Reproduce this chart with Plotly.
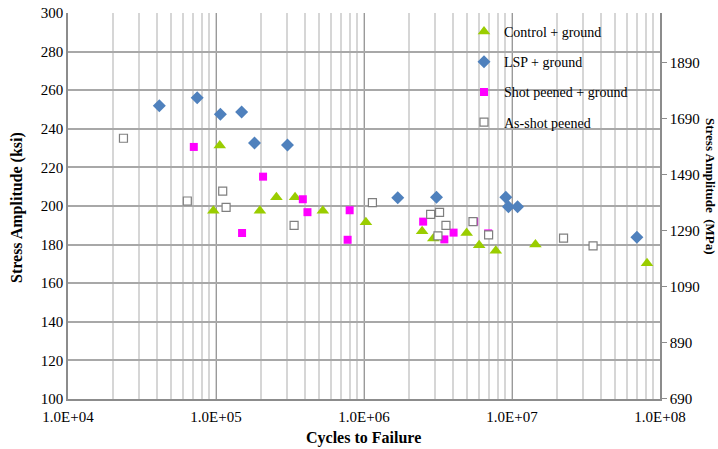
import plotly.graph_objects as go

# Fatigue data: cycles to failure and stress amplitude (ksi)
control_cycles = [9.6e4, 1.06e5, 1.98e5, 2.56e5, 3.42e5, 5.27e5, 1.03e6, 2.47e6,
                  2.94e6, 4.94e6, 6.0e6, 7.77e6, 1.44e7, 8.17e7]
control_ksi = [197.6, 231.4, 197.6, 204.5, 204.5, 197.6, 191.6, 186.9,
               183.1, 186.0, 179.6, 176.8, 180.0, 170.3]

lsp_cycles = [4.14e4, 7.46e4, 1.07e5, 1.49e5, 1.82e5, 3.04e5, 1.69e6, 3.09e6,
              9.08e6, 9.46e6, 1.09e7, 6.98e7]
lsp_ksi = [252.0, 256.1, 247.5, 248.7, 232.6, 231.6, 204.3, 204.5,
           204.5, 199.6, 199.6, 183.8]

shot_cycles = [7.08e4, 1.50e5, 2.08e5, 3.86e5, 4.15e5, 7.75e5, 8.0e5, 2.51e6,
               3.49e6, 4.03e6, 5.55e6, 6.9e6]
shot_ksi = [230.6, 186.0, 215.2, 203.5, 196.8, 182.5, 197.8, 191.9,
            182.7, 186.2, 191.9, 185.8]

asshot_cycles = [2.37e4, 6.4e4, 1.11e5, 1.17e5, 3.37e5, 1.14e6, 2.82e6, 3.16e6,
                 3.24e6, 3.58e6, 5.45e6, 6.95e6, 2.23e7, 3.53e7]
asshot_ksi = [235.1, 202.6, 207.7, 199.3, 190.0, 201.7, 195.7, 184.5,
              196.7, 190.0, 191.9, 185.0, 183.4, 179.3]

x_tickvals = [1e4, 1e5, 1e6, 1e7, 1e8]
x_ticktext = ["1.0E+04", "1.0E+05", "1.0E+06", "1.0E+07", "1.0E+08"]

KSI_TO_MPA = 6.89476
ksi_range = [100, 300]

FONT = "Liberation Serif, Times New Roman, serif"

fig = go.Figure()

fig.add_trace(go.Scatter(
    x=control_cycles, y=control_ksi, mode="markers", name="Control + ground",
    legendgroup="a",
    marker=dict(symbol="triangle-up", size=11, color="#9acd00", line=dict(width=0)),
))
fig.add_trace(go.Scatter(
    x=lsp_cycles, y=lsp_ksi, mode="markers", name="LSP + ground",
    legendgroup="b",
    marker=dict(symbol="diamond", size=10, color="#4f81bd", line=dict(width=0)),
))
fig.add_trace(go.Scatter(
    x=shot_cycles, y=shot_ksi, mode="markers", name="Shot peened + ground",
    legendgroup="c",
    marker=dict(symbol="square", size=8, color="#ff00ff", line=dict(width=0)),
))
fig.add_trace(go.Scatter(
    x=asshot_cycles, y=asshot_ksi, mode="markers", name="As-shot peened",
    legendgroup="d",
    marker=dict(symbol="square", size=8, color="white",
                line=dict(width=1.2, color="#7f7f7f")),
))
# carrier trace so the secondary MPa axis is rendered
fig.add_trace(go.Scatter(x=[None], y=[None], yaxis="y2", showlegend=False,
                         hoverinfo="skip"))

L, R, T, B = 68, 58, 13, 50
W, H = 718, 449
pw, ph = W - L - R, H - T - B


def px_x(p):
    return (p - L) / pw


def px_y(p):
    return (H - B - p) / ph


# white panel behind the legend, above the gridlines
fig.add_shape(type="rect", xref="paper", yref="paper",
              x0=px_x(467), x1=px_x(654), y0=px_y(138), y1=px_y(14.5),
              fillcolor="white", line=dict(width=0), layer="between")

fig.update_layout(
    width=W, height=H,
    margin=dict(l=L, r=R, t=T, b=B, autoexpand=False),
    paper_bgcolor="white", plot_bgcolor="white",
    font=dict(family=FONT, size=15, color="black"),
    showlegend=True,
    legend=dict(
        x=px_x(464), y=px_y(16), xanchor="left", yanchor="top",
        bgcolor="rgba(0,0,0,0)", font=dict(family=FONT, size=14),
        tracegroupgap=9, itemwidth=30,
    ),
    xaxis=dict(
        type="log", range=[4, 8], automargin=False,
        tickvals=x_tickvals, ticktext=x_ticktext,
        showgrid=True, gridcolor="#9a9a9a", gridwidth=1,
        minor=dict(dtick="D1", showgrid=True, gridcolor="#d6d6d6", gridwidth=1.5,
                   ticks=""),
        showline=True, linecolor="#8c8c8c", linewidth=1.5,
        ticks="", zeroline=False, ticklabelstandoff=3,
        tickfont=dict(family=FONT, size=15),
    ),
    yaxis=dict(
        range=ksi_range, dtick=20, tick0=100, automargin=False,
        showgrid=True, gridcolor="#a8a8a8", gridwidth=1.5,
        showline=True, linecolor="#8c8c8c", linewidth=1.5,
        ticks="", zeroline=False,
        tickfont=dict(family=FONT, size=15),
    ),
    yaxis2=dict(
        overlaying="y", side="right", automargin=False,
        range=[ksi_range[0] * KSI_TO_MPA, ksi_range[1] * KSI_TO_MPA],
        tick0=690, dtick=200,
        showgrid=False, zeroline=False,
        showline=True, linecolor="#8c8c8c", linewidth=1.5,
        ticks="outside", ticklen=5, tickcolor="#8c8c8c", tickwidth=1,
        tickfont=dict(family=FONT, size=15),
    ),
    annotations=[
        dict(text="<b>Cycles to Failure</b>", xref="paper", yref="paper",
             x=px_x(363), y=px_y(438), xanchor="center", yanchor="middle",
             showarrow=False, font=dict(family=FONT, size=16)),
        dict(text="<b>Stress Amplitude (ksi)</b>", xref="paper", yref="paper",
             x=px_x(17), y=px_y(208), xanchor="center", yanchor="middle",
             textangle=-90, showarrow=False, font=dict(family=FONT, size=16)),
        dict(text="<b>Stress Amplitude  (MPa)</b>", xref="paper", yref="paper",
             x=px_x(711), y=px_y(186), xanchor="center", yanchor="middle",
             textangle=90, showarrow=False, font=dict(family=FONT, size=13)),
    ],
)

fig.write_html("out.html")
